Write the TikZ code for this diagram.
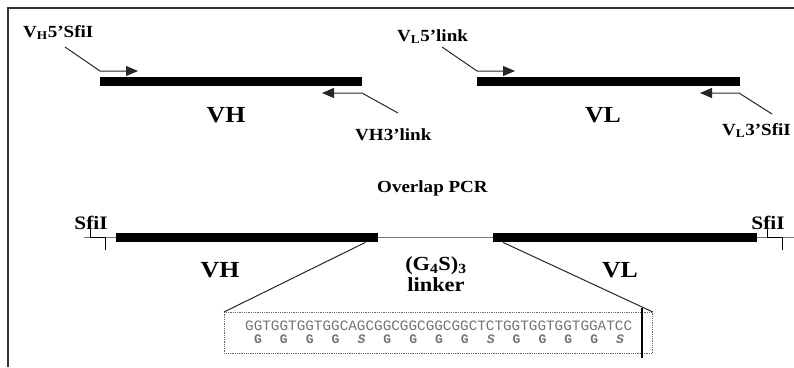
\documentclass[tikz,border=0pt]{standalone}
\usepackage{fontspec}
\setmainfont[FakeStretch=1.12]{Liberation Serif}
\newfontfamily\seqfont{Liberation Mono}
\usetikzlibrary{arrows.meta,calc}
\begin{document}
\begin{tikzpicture}[x=1pt,y=-1pt,
  bar/.style={fill=black, draw=none, inner sep=0pt, anchor=north west, minimum height=9pt},
  lbl/.style={inner sep=0pt, anchor=base west, font=\bfseries\fontsize{17}{19}\selectfont},
  big/.style={inner sep=0pt, anchor=base, font=\bfseries\fontsize{23}{25}\selectfont},
  primer/.style={line width=1pt, draw=black!85},
  parrow/.style={-{Triangle[length=12pt,width=10pt]}},
  thin/.style={line width=1.6pt, draw=black!55},
  cutmark/.style={line width=1pt, draw=black},
  zoomline/.style={line width=1pt, draw=black!85},
  seqtxt/.style={inner sep=0pt, anchor=base west, text=black!55, font=\seqfont\fontsize{14.33}{16}\selectfont},
  aatxt/.style={inner sep=0pt, anchor=base, text=black!55, font=\seqfont\bfseries\fontsize{13}{15}\selectfont},
  frameline/.style={line width=2pt, draw=black!80}
]
\useasboundingbox (0,0) rectangle (794,367);
% frame
\coordinate (fA) at (8,367);
\coordinate (fB) at (8,8);
\coordinate (fC) at (794,8);
\draw[frameline] (fA) -- (fB) -- (fC);

% ---------- top: VH ----------
\node[bar, minimum width=262pt] (vhA) at (100,77) {};
\node[lbl] (pvh5) at (23,37) {V\textsubscript{H}5’SfiI};
\node[lbl] (pvh3) at (355,140) {VH3’link};
\node[big] (vhAlbl) at (226,122) {VH};
\coordinate (a1) at (65,47);
\coordinate (a2) at (100,71);
\coordinate (a3) at (138,71);
\draw[primer, parrow] (a1) -- (a2) -- (a3);
\coordinate (b1) at (398,113);
\coordinate (b2) at (362,93);
\coordinate (b3) at (322,93);
\draw[primer, parrow] (b1) -- (b2) -- (b3);

% ---------- top: VL ----------
\node[bar, minimum width=263pt] (vlA) at (477,77) {};
\node[lbl] (pvl5) at (397,41) {V\textsubscript{L}5’link};
\node[lbl] (pvl3) at (722,135) {V\textsubscript{L}3’SfiI};
\node[big] (vlAlbl) at (603,122) {VL};
\coordinate (c1) at (442,47);
\coordinate (c2) at (477,71);
\coordinate (c3) at (515,71);
\draw[primer, parrow] (c1) -- (c2) -- (c3);
\coordinate (d1) at (772,114);
\coordinate (d2) at (739,93);
\coordinate (d3) at (700,93);
\draw[primer, parrow] (d1) -- (d2) -- (d3);

% ---------- Overlap PCR ----------
\node[inner sep=0pt, anchor=base west, font=\bfseries\fontsize{17}{19}\selectfont] (olap) at (377,192) {Overlap PCR};

% ---------- bottom construct ----------
\coordinate (tL) at (84,237.5);
\coordinate (tR) at (794,237.5);
\draw[thin] (tL) -- (tR);
\node[bar, minimum width=262pt] (vhB) at (116,233) {};
\node[bar, minimum width=264pt] (vlB) at (493,233) {};
\node[big] (vhBlbl) at (220,277) {VH};
\node[big] (vlBlbl) at (620,277) {VL};
\node[inner sep=0pt, anchor=base, font=\bfseries\fontsize{20}{22}\selectfont] (g4s) at (436,270) {(G\textsubscript{4}S)\textsubscript{3}};
\node[inner sep=0pt, anchor=base, font=\bfseries\fontsize{20}{22}\selectfont] (lnk) at (436,291) {linker};

% SfiI sites
\node[inner sep=0pt, anchor=base, font=\bfseries\fontsize{19}{21}\selectfont] (sfiL) at (91,229) {SfiI};
\node[inner sep=0pt, anchor=base, font=\bfseries\fontsize{19}{21}\selectfont] (sfiR) at (768,229) {SfiI};
\coordinate (sL1) at (90,225);
\coordinate (sL2) at (90,237.5);
\coordinate (sL3) at (105,237.5);
\coordinate (sL4) at (105,250);
\draw[cutmark] (sL1) -- (sL2) -- (sL3) -- (sL4);
\coordinate (sR1) at (767,225);
\coordinate (sR2) at (767,237.5);
\coordinate (sR3) at (782,237.5);
\coordinate (sR4) at (782,250);
\draw[cutmark] (sR1) -- (sR2) -- (sR3) -- (sR4);

% ---------- zoom box ----------
\node[draw=black!60, densely dotted, line width=0.8pt, inner sep=0pt, anchor=north west,
      minimum width=428pt, minimum height=41pt] (box) at (224,312) {};
\draw[zoomline] ($(vhB.south east)+(-13,0)$) -- (box.north west);
\draw[zoomline] ($(vlB.south west)+(10,0)$) -- (box.north east);
\coordinate (v1) at (642,308);
\coordinate (v2) at (642,358);
\draw[line width=1.2pt] (v1) -- (v2);
\node[seqtxt] (seq) at (245,330) {GGTGGTGGTGGCAGCGGCGGCGGCGGCTCTGGTGGTGGTGGATCC};
\foreach \a [count=\i from 0] in {G,G,G,G,\textit{S},G,G,G,G,\textit{S},G,G,G,G,\textit{S}}
  \node[aatxt] (aa\i) at (258+25.86*\i,343) {\a};
\end{tikzpicture}
\end{document}
